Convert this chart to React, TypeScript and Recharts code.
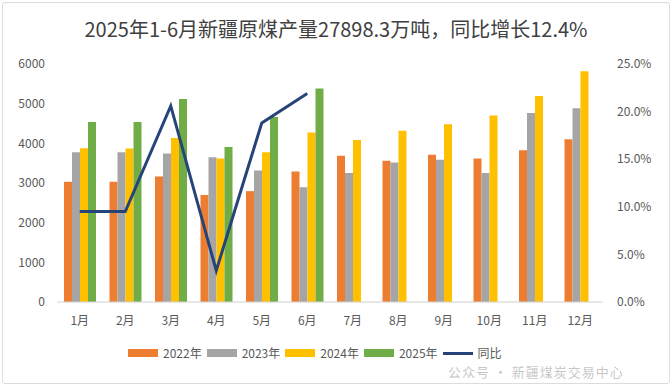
import React from 'react';
import { ComposedChart, Bar, Line, XAxis, YAxis } from 'recharts';

const MONTHS = ['1月', '2月', '3月', '4月', '5月', '6月', '7月', '8月', '9月', '10月', '11月', '12月'];
const Y2022 = [3030, 3030, 3165, 2700, 2795, 3290, 3685, 3560, 3710, 3615, 3825, 4105];
const Y2023 = [3775, 3775, 3745, 3650, 3315, 2895, 3255, 3515, 3585, 3255, 4765, 4885];
const Y2024 = [3875, 3870, 4135, 3615, 3775, 4270, 4085, 4315, 4480, 4700, 5195, 5815];
const Y2025 = [4540, 4540, 5120, 3910, 4665, 5380, null, null, null, null, null, null];
const YOY = [9.5, 9.5, 20.6, 3.3, 18.8, 21.9, null, null, null, null, null, null];

const LEFT_TICKS = [0, 1000, 2000, 3000, 4000, 5000, 6000];
const RIGHT_TICKS = [0, 5, 10, 15, 20, 25];

const SERIES = [
  { key: 'y2022', name: '2022年', color: '#ED7D31' },
  { key: 'y2023', name: '2023年', color: '#A5A5A5' },
  { key: 'y2024', name: '2024年', color: '#FFC000' },
  { key: 'y2025', name: '2025年', color: '#70AD47' },
];
const LINE_COLOR = '#264478';

const FONT = '"Noto Sans CJK SC", "Noto Sans", sans-serif';

const rows = MONTHS.map((m, i) => ({
  month: m,
  y2022: Y2022[i],
  y2023: Y2023[i],
  y2024: Y2024[i],
  y2025: Y2025[i],
  yoy: YOY[i],
}));

const tick = { fill: '#595959', fontSize: 12, fontFamily: FONT };

export default function App() {
  return (
    <div style={{ position: 'relative', width: 672, height: 386, background: '#fff', fontFamily: FONT }}>
      <style>{`body{margin:0}`}</style>
      <div
        style={{
          position: 'absolute', left: 2, top: 2, width: 666, height: 380,
          border: '1px solid #dcdcdc', borderRadius: 3,
        }}
      />
      <div
        style={{
          position: 'absolute', top: 15, left: 0, width: 672, textAlign: 'center',
          fontSize: 20, color: '#404040', lineHeight: '28px',
        }}
      >
        2025年1-6月新疆原煤产量27898.3万吨，同比增长12.4%
      </div>
      <div style={{ position: 'absolute', left: 0, top: 0 }}>
        <ComposedChart
          width={672}
          height={386}
          data={rows}
          margin={{ top: 64, right: 0, bottom: 54, left: 0 }}
          barGap={0}
        >
          <XAxis
            dataKey="month"
            tick={tick}
            tickLine={false}
            axisLine={{ stroke: '#d0d0d0' }}
            height={30}
            tickMargin={8}
            interval={0}
          />
          <YAxis
            yAxisId="left"
            domain={[0, 6000]}
            ticks={LEFT_TICKS}
            tick={tick}
            axisLine={false}
            tickLine={false}
            tickSize={0}
            tickMargin={12}
            width={57}
          />
          <YAxis
            yAxisId="right"
            orientation="right"
            domain={[0, 25]}
            ticks={RIGHT_TICKS}
            tickFormatter={(v: number) => `${v.toFixed(1)}%`}
            tick={tick}
            axisLine={false}
            tickLine={false}
            tickSize={0}
            tickMargin={14}
            width={69}
          />
          {SERIES.map((s) => (
            <Bar
              key={s.key}
              yAxisId="left"
              dataKey={s.key}
              name={s.name}
              fill={s.color}
              barSize={8}
              isAnimationActive={false}
            />
          ))}
          <Line
            yAxisId="right"
            dataKey="yoy"
            name="同比"
            stroke={LINE_COLOR}
            strokeWidth={3}
            dot={false}
            isAnimationActive={false}
          />
        </ComposedChart>
      </div>
      <div
        style={{
          position: 'absolute', left: 128, top: 344, display: 'flex', alignItems: 'center',
          gap: 5, fontSize: 12, color: '#595959', lineHeight: '18px',
        }}
      >
        {SERIES.map((s) => (
          <span key={s.key} style={{ display: 'inline-flex', alignItems: 'center', gap: 5 }}>
            <span style={{ width: 30, height: 8, background: s.color, display: 'inline-block' }} />
            {s.name}
          </span>
        ))}
        <span style={{ display: 'inline-flex', alignItems: 'center', gap: 5 }}>
          <span style={{ width: 30, height: 3, background: LINE_COLOR, display: 'inline-block' }} />
          同比
        </span>
      </div>
      <div
        style={{
          position: 'absolute', left: 448, top: 363, fontSize: 13, color: 'rgba(160,160,160,0.6)',
          lineHeight: '17px', letterSpacing: 1,
        }}
      >
        公众号 · 新疆煤炭交易中心
      </div>
    </div>
  );
}
